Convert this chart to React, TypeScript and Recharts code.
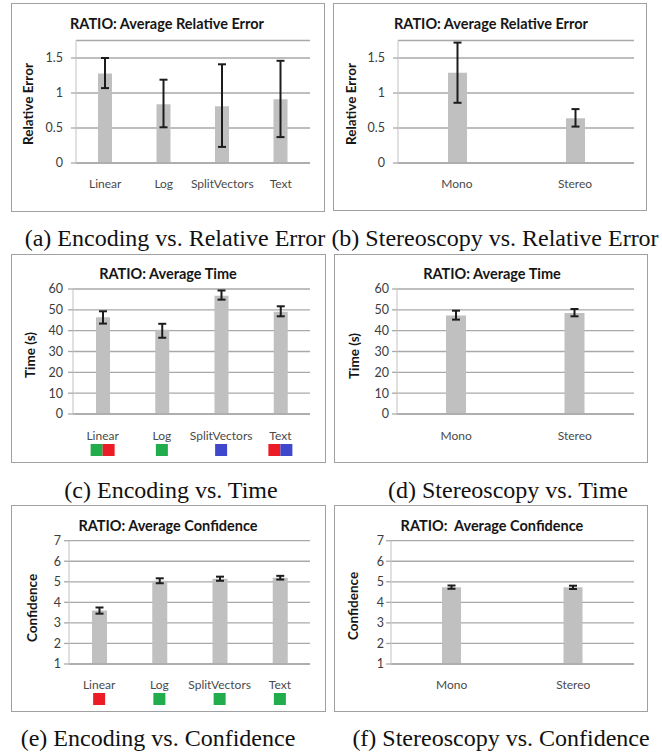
import React from 'react';
import { BarChart, Bar, XAxis, YAxis, CartesianGrid, ErrorBar } from 'recharts';

const encodings = ['Linear', 'Log', 'SplitVectors', 'Text'];
const stereoModes = ['Mono', 'Stereo'];

// (a) relative error by encoding
const encErrMean = [1.28, 0.84, 0.81, 0.91];
const encErrLow = [1.07, 0.51, 0.23, 0.37];
const encErrHigh = [1.5, 1.19, 1.41, 1.46];
// (b) relative error by stereoscopy
const stereoErrMean = [1.29, 0.64];
const stereoErrLow = [0.86, 0.52];
const stereoErrHigh = [1.72, 0.77];
// (c) time by encoding
const encTimeMean = [46.4, 40.4, 56.8, 49.1];
const encTimeLow = [43.4, 36.6, 54.9, 46.9];
const encTimeHigh = [49.3, 43.3, 59.3, 51.7];
// (d) time by stereoscopy
const stereoTimeMean = [47.3, 48.5];
const stereoTimeLow = [45.3, 46.9];
const stereoTimeHigh = [49.6, 50.4];
// (e) confidence by encoding
const encConfMean = [3.6, 5.05, 5.15, 5.2];
const encConfLow = [3.45, 4.93, 5.05, 5.11];
const encConfHigh = [3.75, 5.17, 5.25, 5.29];
// (f) confidence by stereoscopy
const stereoConfMean = [4.74, 4.73];
const stereoConfLow = [4.66, 4.65];
const stereoConfHigh = [4.82, 4.81];

const errTicks = [0, 0.5, 1, 1.5];
const timeTicks = [0, 10, 20, 30, 40, 50, 60];
const confTicks = [1, 2, 3, 4, 5, 6, 7];

// significance-group swatches under the encoding labels
const timeSwatches = [['green', 'red'], ['green'], ['blue'], ['red', 'blue']];
const confSwatches = [['red'], ['green'], ['green'], ['green']];

const SWATCH: Record<string, string> = {
  green: '#22ad4c',
  red: '#ec1c26',
  blue: '#3f47cc',
};

const SANS = 'Lato, "Open Sans", sans-serif';
const GRID = '#a9a9a9';

type Row = { name: string; value: number; err: [number, number] };

function rows(names: string[], mean: number[], low: number[], high: number[]): Row[] {
  return names.map((name, i) => ({
    name,
    value: mean[i],
    err: [+(mean[i] - low[i]).toFixed(3), +(high[i] - mean[i]).toFixed(3)],
  }));
}

function CatTick(props: any) {
  const { x, y, payload, names, swatches } = props;
  const idx = names.indexOf(payload.value);
  const sw: string[] = swatches ? swatches[idx] : [];
  const size = 12;
  const start = x - (sw.length * size) / 2;
  return (
    <g>
      <text
        x={x}
        y={y}
        dy="0.35em"
        textAnchor="middle"
        fontSize={12}
        fontFamily={SANS}
        fill="#4a4a4a"
      >
        {payload.value}
      </text>
      {sw.map((c, i) => (
        <rect key={i} x={start + i * size} y={y + 8} width={size} height={size} fill={SWATCH[c]} />
      ))}
    </g>
  );
}

interface PanelProps {
  box: [number, number, number, number];
  plot: [number, number, number, number];
  data: Row[];
  names: string[];
  domain: [number, number];
  ticks: number[];
  title: string;
  titleX: number;
  titleY: number;
  yLabel: string;
  yLabelX: number;
  yLabelY: number;
  barSize: number;
  tickGap: number;
  labelGap: number;
  swatches?: string[][];
  caption: string;
  captionX: number;
  captionY: number;
}

function Panel(p: PanelProps) {
  const [x0, y0, x1, y1] = p.box;
  const [px0, py0, px1, py1] = p.plot;
  const yW = 40;
  const xH = 40;
  const margin = {
    top: py0 - y0,
    right: x1 - px1,
    bottom: y1 - py1 - xH,
    left: px0 - x0 - yW,
  };
  return (
    <>
      <div
        style={{
          position: 'absolute',
          left: x0,
          top: y0,
          width: x1 - x0,
          height: y1 - y0,
          boxSizing: 'border-box',
          border: '1.5px solid #a0a0a0',
        }}
      />
      <div style={{ position: 'absolute', left: x0, top: y0 }}>
        <BarChart width={x1 - x0} height={y1 - y0} data={p.data} margin={margin}>
          <CartesianGrid vertical={false} stroke={GRID} strokeWidth={1.3} />
          <XAxis
            dataKey="name"
            height={xH}
            axisLine={{ stroke: GRID, strokeWidth: 1.3 }}
            tickLine={false}
            tickSize={0}
            tickMargin={p.labelGap}
            interval={0}
            tick={<CatTick names={p.names} swatches={p.swatches} />}
          />
          <YAxis
            type="number"
            width={yW}
            domain={p.domain}
            ticks={p.ticks}
            interval={0}
            allowDataOverflow
            axisLine={{ stroke: '#cfcfcf', strokeWidth: 1.3 }}
            tickLine={{ stroke: GRID, strokeWidth: 1.3 }}
            tickSize={5}
            tickMargin={p.tickGap}
            tick={{ fontSize: 12.5, fill: '#3c3c3c', fontFamily: SANS }}
          />
          <Bar dataKey="value" fill="#c0c0c0" barSize={p.barSize} isAnimationActive={false}>
            <ErrorBar
              dataKey="err"
              direction="y"
              width={4}
              stroke="#1c1c1c"
              strokeWidth={2}
              isAnimationActive={false}
            />
          </Bar>
        </BarChart>
      </div>
      <div
        style={{
          position: 'absolute',
          left: p.titleX - 150,
          top: p.titleY - 9,
          width: 300,
          textAlign: 'center',
          fontFamily: SANS,
          fontWeight: 700,
          fontSize: 14.5,
          lineHeight: '18px',
          color: '#161616',
          whiteSpace: 'pre',
        }}
      >
        {p.title}
      </div>
      <div
        style={{
          position: 'absolute',
          left: p.yLabelX,
          top: p.yLabelY,
          transform: 'translate(-50%, -50%) rotate(-90deg)',
          fontFamily: SANS,
          fontWeight: 700,
          fontSize: 13.5,
          lineHeight: '16px',
          color: '#161616',
          whiteSpace: 'nowrap',
        }}
      >
        {p.yLabel}
      </div>
      <div
        style={{
          position: 'absolute',
          left: p.captionX - 200,
          top: p.captionY - 12,
          width: 400,
          textAlign: 'center',
          fontFamily: '"Liberation Serif", "Times New Roman", serif',
          fontSize: 24,
          lineHeight: '24px',
          color: '#111',
          whiteSpace: 'nowrap',
        }}
      >
        {p.caption}
      </div>
    </>
  );
}

export default function App() {
  return (
    <div
      style={{
        position: 'absolute',
        left: 0,
        top: 0,
        width: 662,
        height: 754,
        background: '#fff',
        overflow: 'hidden',
      }}
    >
      <Panel
        box={[11, 3, 325, 212]}
        plot={[76, 40.5, 310, 163]}
        data={rows(encodings, encErrMean, encErrLow, encErrHigh)}
        names={encodings}
        domain={[0, 1.75]}
        ticks={errTicks}
        title="RATIO: Average Relative Error"
        titleX={167}
        titleY={24}
        yLabel="Relative Error"
        yLabelX={28}
        yLabelY={104}
        barSize={14}
        tickGap={8}
        labelGap={21}
        caption="(a) Encoding vs. Relative Error"
        captionX={175}
        captionY={238}
      />
      <Panel
        box={[333, 3, 647, 211]}
        plot={[398, 40.5, 634, 163]}
        data={rows(stereoModes, stereoErrMean, stereoErrLow, stereoErrHigh)}
        names={stereoModes}
        domain={[0, 1.75]}
        ticks={errTicks}
        title="RATIO: Average Relative Error"
        titleX={491}
        titleY={24}
        yLabel="Relative Error"
        yLabelX={351}
        yLabelY={104}
        barSize={19}
        tickGap={8}
        labelGap={21}
        caption="(b) Stereoscopy vs. Relative Error"
        captionX={495}
        captionY={238}
      />
      <Panel
        box={[11, 254, 326, 463]}
        plot={[73, 289, 310, 414]}
        data={rows(encodings, encTimeMean, encTimeLow, encTimeHigh)}
        names={encodings}
        domain={[0, 60]}
        ticks={timeTicks}
        title="RATIO: Average Time"
        titleX={168}
        titleY={274}
        yLabel="Time (s)"
        yLabelX={30}
        yLabelY={355}
        barSize={14}
        tickGap={5}
        labelGap={22}
        swatches={timeSwatches}
        caption="(c) Encoding vs. Time"
        captionX={171}
        captionY={490}
      />
      <Panel
        box={[334, 254, 648, 463]}
        plot={[397, 289, 634, 414]}
        data={rows(stereoModes, stereoTimeMean, stereoTimeLow, stereoTimeHigh)}
        names={stereoModes}
        domain={[0, 60]}
        ticks={timeTicks}
        title="RATIO: Average Time"
        titleX={492}
        titleY={274}
        yLabel="Time (s)"
        yLabelX={354}
        yLabelY={356}
        barSize={20}
        tickGap={3}
        labelGap={22}
        caption="(d) Stereoscopy vs. Time"
        captionX={508}
        captionY={490}
      />
      <Panel
        box={[11, 505, 326, 712]}
        plot={[69, 540.7, 310, 664]}
        data={rows(encodings, encConfMean, encConfLow, encConfHigh)}
        names={encodings}
        domain={[1, 7]}
        ticks={confTicks}
        title="RATIO: Average Confidence"
        titleX={168}
        titleY={526}
        yLabel="Confidence"
        yLabelX={32}
        yLabelY={608}
        barSize={15}
        tickGap={3}
        labelGap={21}
        swatches={confSwatches}
        caption="(e) Encoding vs. Confidence"
        captionX={158}
        captionY={738}
      />
      <Panel
        box={[334, 505, 648, 712]}
        plot={[391, 540.7, 634, 664]}
        data={rows(stereoModes, stereoConfMean, stereoConfLow, stereoConfHigh)}
        names={stereoModes}
        domain={[1, 7]}
        ticks={confTicks}
        title="RATIO:  Average Confidence"
        titleX={492}
        titleY={526}
        yLabel="Confidence"
        yLabelX={353}
        yLabelY={606}
        barSize={19}
        tickGap={2}
        labelGap={21}
        caption="(f) Stereoscopy vs. Confidence"
        captionX={501}
        captionY={738}
      />
    </div>
  );
}
